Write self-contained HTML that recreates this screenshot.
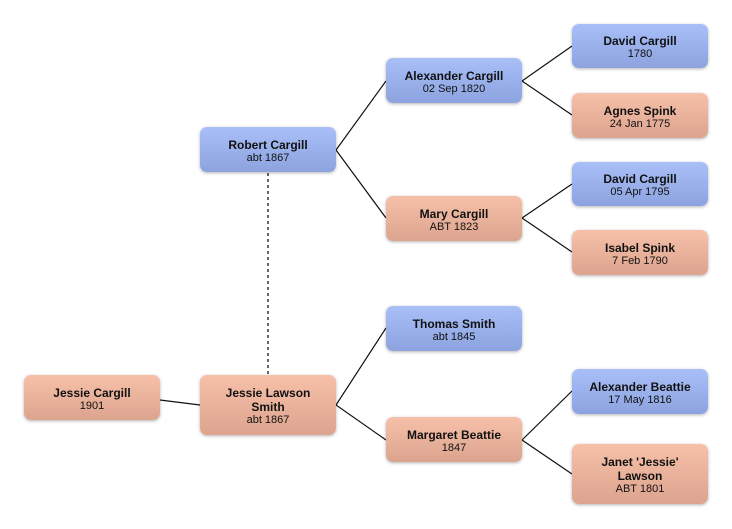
<!DOCTYPE html><html><head><style>
body{margin:0;background:#fff;width:732px;height:529px;position:relative;overflow:hidden;font-family:"Liberation Sans",sans-serif}
.b{position:absolute;width:136px;box-sizing:border-box;padding-top:3px;border-radius:7px;box-shadow:0 1px 3px rgba(0,0,0,.3);display:flex;flex-direction:column;justify-content:center;align-items:center;text-align:center;color:#111;font-size:11px;line-height:13px}
.b b{font-size:12px;line-height:14px}
.m{background:linear-gradient(#a8bff8,#8ca3df)}
.f{background:linear-gradient(#f7c0a9,#dca48e)}
svg{position:absolute;left:0;top:0}
</style></head><body>
<svg width="732" height="529"><g stroke="#111" stroke-width="1.2" fill="none">
<path d="M386 81L336 150L386 218"/><path d="M572 46L522 81L572 115"/><path d="M572 184L522 218L572 252"/>
<path d="M386 328L336 405L386 440"/><path d="M572 391L522 440L572 474"/><path d="M160 400L200 405"/>
<path d="M268 173V375" stroke="#666" stroke-dasharray="3,3" stroke-width="2"/></g></svg>
<div class="b m" style="left:200px;top:127px;height:45px"><b>Robert Cargill</b>abt 1867</div>
<div class="b f" style="left:24px;top:375px;height:45px"><b>Jessie Cargill</b>1901</div>
<div class="b f" style="left:200px;top:375px;height:60px"><b>Jessie Lawson<br>Smith</b>abt 1867</div>
<div class="b m" style="left:386px;top:58px;height:45px"><b>Alexander Cargill</b>02 Sep 1820</div>
<div class="b f" style="left:386px;top:196px;height:45px"><b>Mary Cargill</b>ABT 1823</div>
<div class="b m" style="left:386px;top:306px;height:45px"><b>Thomas Smith</b>abt 1845</div>
<div class="b f" style="left:386px;top:417px;height:45px"><b>Margaret Beattie</b>1847</div>
<div class="b m" style="left:572px;top:24px;height:44px"><b>David Cargill</b>1780</div>
<div class="b f" style="left:572px;top:93px;height:45px"><b>Agnes Spink</b>24 Jan 1775</div>
<div class="b m" style="left:572px;top:162px;height:44px"><b>David Cargill</b>05 Apr 1795</div>
<div class="b f" style="left:572px;top:230px;height:45px"><b>Isabel Spink</b>7 Feb 1790</div>
<div class="b m" style="left:572px;top:369px;height:45px"><b>Alexander Beattie</b>17 May 1816</div>
<div class="b f" style="left:572px;top:444px;height:60px"><b>Janet 'Jessie'<br>Lawson</b>ABT 1801</div>
</body></html>
